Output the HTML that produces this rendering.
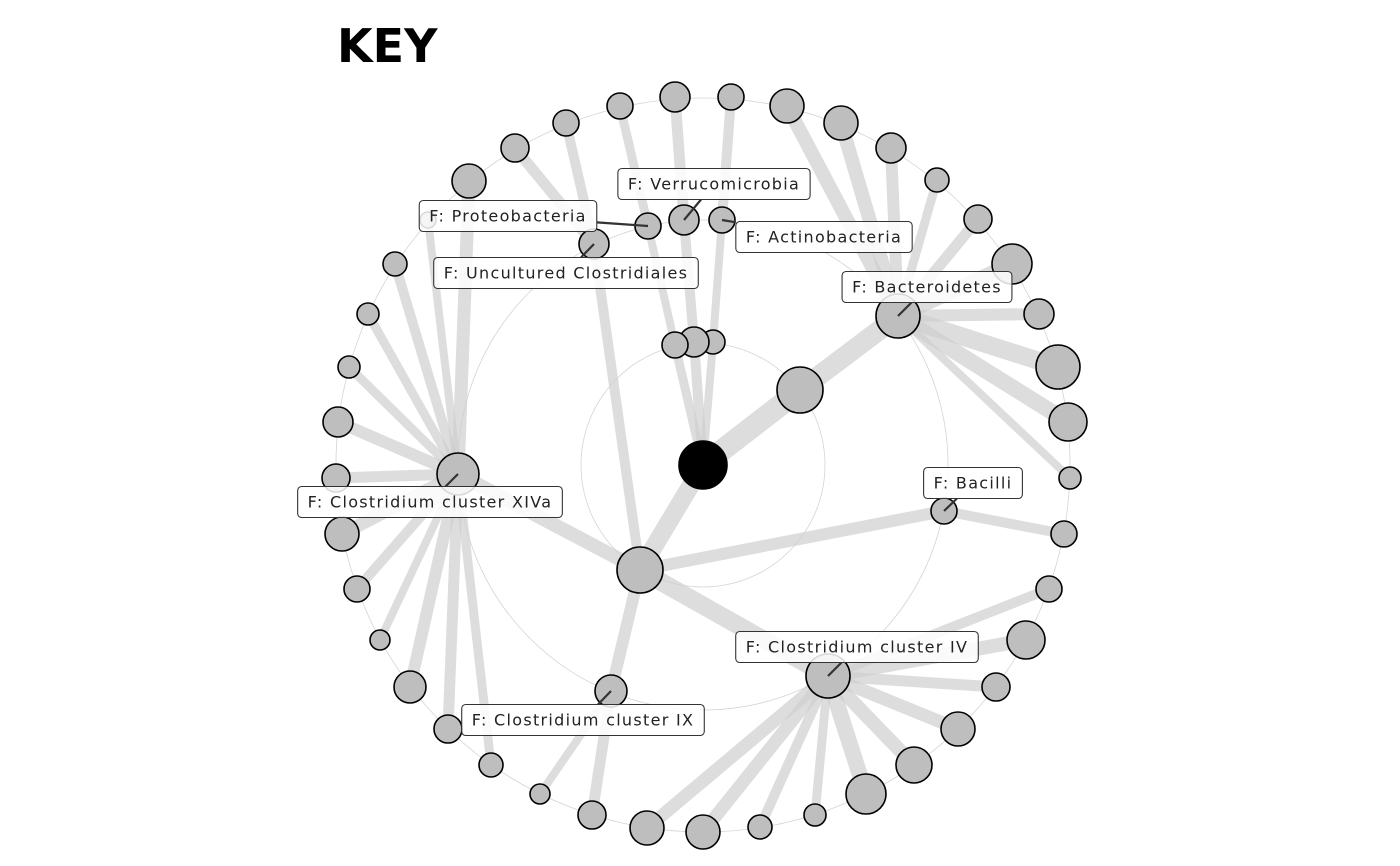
<!DOCTYPE html>
<html><head><meta charset="utf-8"><style>
html,body{margin:0;padding:0;background:#fff;}
svg{display:block;font-family:"DejaVu Sans","Liberation Sans",sans-serif;}
</style></head><body>
<svg id="chart" width="1400" height="866" viewBox="0 0 1400 866">
<text x="337" y="62" font-size="46" font-weight="bold">KEY</text>
<g id="rings"></g><g id="edges"></g><g id="nodes"></g><g id="labels"></g>
</svg>
<script>
// node ids, offsets from root (data units), radius, parent id, edge width
const nodeIds = ["root","a1","a2","a3","b1","c1","bac","xiva","bacilli","iv","ix","unc","prot","verr","actino",
"l1","l2","l3","l4","l5","l6","l7","l8","l9","l10","l11","l12","l13","l14","l15","l16","l17","l18","l19","l20","l21","l22","l23","l24","l25","l26","l27","l28","l29","l30","l31","l32","l33","l34","l35","l36","l37","l38","l39","l40","l41","l42","l43","l44","l45","l46"];
const nodeX = [0,-28,-9,10,97,-63,195,-245,241,125,-92,-109,-55,-19,19,
84,138,188,234,275,309,336,355,365,367,361,346,323,293,255,211,163,112,57,0,-56,-111,-163,-212,-255,-293,-323,-346,-361,-367,-365,-354,-335,-308,-275,-234,-188,-137,-83,-28,28];
const nodeY = [0,-120,-123,-123,-75,105,-149,9,46,211,226,-221,-239,-245,-245,
-359,-342,-317,-285,-246,-201,-151,-98,-43,13,69,124,175,222,264,300,329,350,362,367,363,350,329,300,264,222,175,124,69,13,-43,-98,-151,-201,-245,-284,-317,-342,-359,-368,-368];
const nodeR = [24,13,15,12,23,23,22,21,13,22,16,15,13,15,13,
17,17,15,12,14,20,15,22,19,11,13,13,19,14,17,18,20,11,12,17,17,14,10,12,14,16,10,13,17,14,15,11,11,12,8,17,14,13,13,15,13];
const nodeParent = [-1,0,0,0,0,0,4,5,5,5,5,5,1,2,3,
6,6,6,6,6,6,6,6,6,6,8,9,9,9,9,9,9,9,9,9,9,10,10,7,7,7,7,7,7,7,7,7,7,7,7,7,11,11,12,13,14];
const edgeW = [0,9,10,8,22,18,20,14,12,18,12,10,8,10,8,
14,14,12,9,11,15,12,18,16,8,10,10,14,11,13,14,16,9,10,13,13,11,8,9,11,12,8,10,13,11,12,9,9,10,8,13,11,10,9,11,10];
const labelText = ["F: Bacteroidetes","F: Clostridium cluster XIVa","F: Bacilli","F: Clostridium cluster IV","F: Clostridium cluster IX","F: Uncultured Clostridiales","F: Proteobacteria","F: Verrucomicrobia","F: Actinobacteria"];
const labelNode = [6,7,8,9,10,11,12,13,14];
const labelDX = [29,-28,29,29,-28,-28,-140,30,102];
const labelDY = [-29,28,-28,-29,29,29,-10,-36,17];
const ringRadii = [122,245,367];

const cx=703, cy=465;
const sx = v => cx + v;
const sy = v => cy + v;
const NS="http://www.w3.org/2000/svg";
function mk(tag, attrs, parent){const e=document.createElementNS(NS,tag);for(const k in attrs)e.setAttribute(k,attrs[k]);parent.appendChild(e);return e;}
const gR=document.getElementById('rings'),gE=document.getElementById('edges'),gN=document.getElementById('nodes'),gL=document.getElementById('labels');
ringRadii.forEach((r,i)=>{
  const c=mk('circle',{cx:cx,cy:cy,r:r,fill:'none',stroke:'#d4d4d4','stroke-width':0.8},gR);
  
  
});
nodeIds.forEach((id,i)=>{
  const p=nodeParent[i]; if(p<0) return;
  const l=mk('line',{x1:sx(nodeX[p]),y1:sy(nodeY[p]),x2:sx(nodeX[i]),y2:sy(nodeY[i]),stroke:'#cfcfcf','stroke-opacity':0.7,'stroke-width':edgeW[i]},gE);
  
  
});
const order=nodeIds.map((_,i)=>i).reverse();
order.forEach(i=>{
  const c=mk('circle',{cx:sx(nodeX[i]),cy:sy(nodeY[i]),r:nodeR[i],fill:i===0?'#000':'#bebebe',stroke:'#000','stroke-width':1.6},gN);
  
  
});
labelText.forEach((t,k)=>{
  const n=labelNode[k];
  const x=sx(nodeX[n])+labelDX[k], y=sy(nodeY[n])+labelDY[k];
  const g=mk('g',{},gL);
  
  
  const txt=mk('text',{x:x,y:y+5.5,'font-size':16,'text-anchor':'middle',fill:'#222','letter-spacing':'1.3'},g);
  txt.textContent=t;
  const w=txt.getComputedTextLength()+20, h=31;
  const bx=x-w/2, by=y-h/2;
  const nx=sx(nodeX[n]), ny=sy(nodeY[n]);
  // leader: from node centre toward label centre, stopping at box edge
  const dx=x-nx, dy=y-ny;
  let tEdge=1;
  if(dx!==0){const tx=((dx>0?bx:bx+w)-nx)/dx; if(tx>0) tEdge=Math.min(tEdge,Math.max(tx,0));}
  if(dy!==0){const ty=((dy>0?by:by+h)-ny)/dy; if(ty>0) tEdge=Math.min(tEdge,Math.max(ty,0));}
  let ex=nx+dx*tEdge, ey=ny+dy*tEdge;
  if(Math.abs(dx)>Math.abs(dy)*3){ex=nx+dx*((dx>0?bx:bx+w)-nx)/dx; ey=ny+dy*((dx>0?bx:bx+w)-nx)/dx;}
  const ln=mk('line',{x1:ex,y1:ey,x2:nx,y2:ny,stroke:'#333','stroke-width':2.2},g);
  
  
  const rect=mk('rect',{x:bx,y:by,width:w,height:h,rx:4,fill:'#fff','fill-opacity':0.85,stroke:'#333','stroke-width':1.1},g);
  
  
  g.appendChild(txt);
});
</script>
</body></html>
